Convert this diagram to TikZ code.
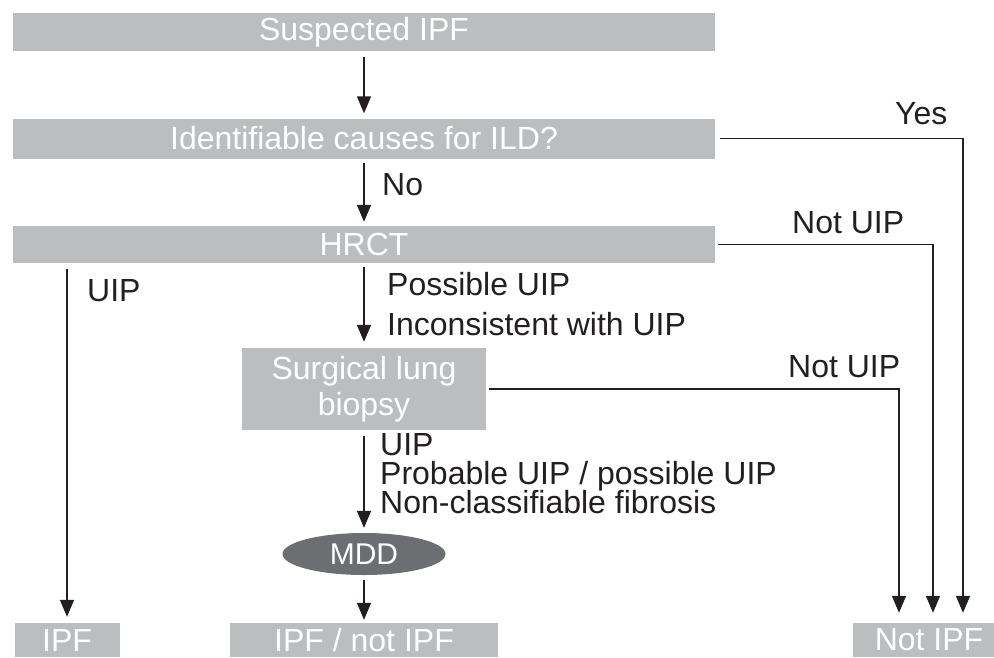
\documentclass[tikz,border=0pt]{standalone}
\usepackage{fontspec}
\setmainfont{Liberation Sans}
\usetikzlibrary{shapes.geometric,arrows.meta,positioning}
\definecolor{boxgray}{RGB}{187,189,191}
\definecolor{mddgray}{RGB}{109,110,113}
\definecolor{inkgray}{RGB}{35,31,32}

\begin{document}
\begin{tikzpicture}[x=1pt, y=-1pt,
    box/.style={fill=boxgray, text=white, inner sep=0pt, font=\fontsize{32}{36}\selectfont},
    lbl/.style={anchor=base west, inner sep=0pt, text=inkgray, font=\fontsize{32}{36}\selectfont},
    arr/.style={draw=inkgray, line width=1.5pt, -{Triangle[length=17pt,width=14pt]}}]
                \useasboundingbox (0,0) rectangle (994,657);
                \node[box, minimum width=702pt, minimum height=38pt] (susp) at (364,32) {Suspected IPF};
                \node[box, minimum width=702pt, minimum height=40pt] (ident) at (364,138.5) {Identifiable causes for ILD?};
                \node[box, minimum width=702pt, minimum height=37pt] (hrct) at (364,244.5) {HRCT};
                \node[box, minimum width=244pt, minimum height=82pt, align=center, font=\fontsize{32}{36}\selectfont] (slb) at (364,389) {Surgical lung\\biopsy};
                \node[ellipse, fill=mddgray, text=white, inner sep=0pt, minimum width=163pt, minimum height=42pt, font=\fontsize{30}{36}\selectfont] (mdd) at (364,554) {MDD};
                \node[box, minimum width=105pt, minimum height=34pt] (ipf) at (67,640) {IPF};
                \node[box, minimum width=268pt, minimum height=34pt] (ipfnot) at (364,640) {IPF / not IPF};
                \node[box, minimum width=152pt, minimum height=34pt] (notipf) at (929,640) {Not IPF};
                \draw[arr, shorten <=6pt, shorten >=5pt] (susp) -- (ident);
                \draw[arr, shorten <=4pt, shorten >=4pt] (ident) -- (hrct);
                \draw[arr, shorten <=4pt, shorten >=6pt] (hrct) -- (slb);
                \draw[arr, shorten <=6pt, shorten >=5pt] (slb) -- (mdd);
                \draw[arr, shorten <=5pt, shorten >=3pt] (mdd) -- (ipfnot);
                \draw[arr, shorten <=6pt, shorten >=6pt] (hrct.south -| ipf.north) -- (ipf.north);
                \draw[arr, shorten <=5pt, shorten >=10pt] (ident.east) -| ([xshift=34pt]notipf.north);
                \draw[arr, shorten <=3pt, shorten >=10pt] (hrct.east) -| ([xshift=4pt]notipf.north);
                \draw[arr, shorten <=3pt, shorten >=10pt] (slb.east) -| ([xshift=-30pt]notipf.north);
                \node[lbl] (yes) at (895,124.5) {Yes};
                \node[lbl] (no) at (382,195) {No};
                \node[lbl] (hrctnot) at (792,233) {Not UIP};
                \node[lbl] (uip) at (87,301) {UIP};
                \node[lbl] (poss) at (387,295) {Possible UIP};
                \node[lbl] (incons) at (387,335) {Inconsistent with UIP};
                \node[lbl] (slbnot) at (788,377) {Not UIP};
                \node[lbl] (uipsure) at (380,455) {UIP};
                \node[lbl] (prob) at (380,484) {Probable UIP / possible UIP};
                \node[lbl] (noncl) at (380,513) {Non-classifiable fibrosis};
            \end{tikzpicture}
\end{document}
